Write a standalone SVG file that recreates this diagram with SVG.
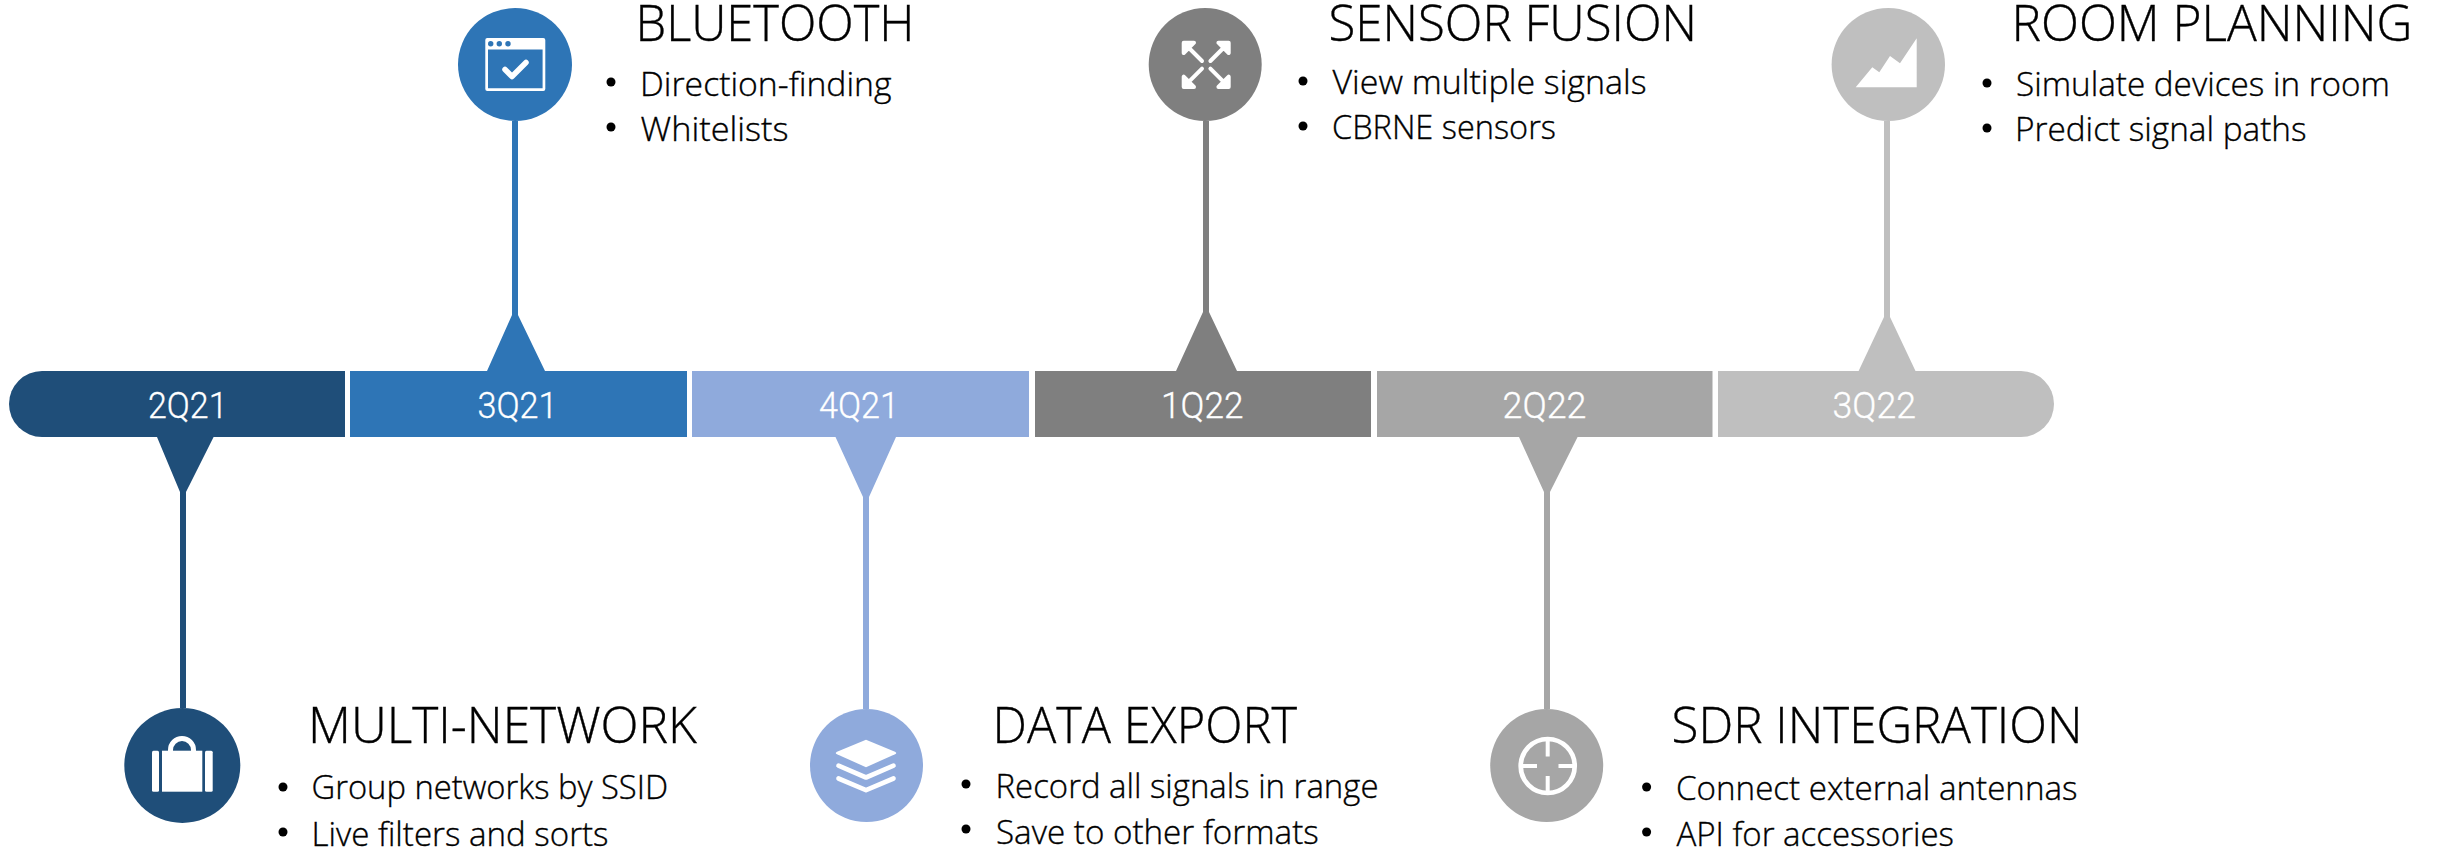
<svg xmlns="http://www.w3.org/2000/svg" width="2440" height="850" viewBox="0 0 2440 850">
<style>
text{font-family:"Open Sans","Liberation Sans",sans-serif;font-weight:300;fill:#000;stroke:#000;stroke-width:.35px}
.t{font-size:49px}
.b{font-size:33px}
.q{font-family:Roboto,"Liberation Sans",sans-serif;font-size:36px;fill:#fff;stroke:#fff;stroke-width:.3px;text-anchor:start}
.ic{fill:#fff;stroke:none}
.il{fill:none;stroke:#fff;stroke-linecap:round;stroke-linejoin:round}
.c1{fill:#1f4e79}.c2{fill:#2e75b6}.c3{fill:#8faadc}.c4{fill:#7f7f7f}.c5{fill:#a6a6a6}.c6{fill:#bfbfbf}
</style>
<rect width="2440" height="850" fill="#fff"/>
<g id="connectors">
<path class="c1" d="M157 437H213.600L186 492V708H180V492Z"/>
<path class="c2" d="M487 371H545L518 315V121H512V315Z"/>
<path class="c3" d="M835.500 437H896L869 497V709H863V497Z"/>
<path class="c4" d="M1176 371H1237L1209 312V121H1203V312Z"/>
<path class="c5" d="M1519 437H1577.600L1550 492V709H1544V492Z"/>
<path class="c6" d="M1858.600 371H1915.500L1890 317V121H1884V317Z"/>
</g>
<g id="seg-2q21"><path class="c1" d="M345 371H42A33 33 0 0 0 42 437H345Z"/><text class="q" x="148" y="418" textLength="79.500" lengthAdjust="spacingAndGlyphs">2Q21</text></g>
<g id="seg-3q21"><rect class="c2" x="350" y="371" width="337" height="66"/><text class="q" x="477.500" y="418" textLength="80" lengthAdjust="spacingAndGlyphs">3Q21</text></g>
<g id="seg-4q21"><rect class="c3" x="692" y="371" width="337" height="66"/><text class="q" x="819" y="418" textLength="80" lengthAdjust="spacingAndGlyphs">4Q21</text></g>
<g id="seg-1q22"><rect class="c4" x="1035" y="371" width="336" height="66"/><text class="q" x="1161" y="418" textLength="82.500" lengthAdjust="spacingAndGlyphs">1Q22</text></g>
<g id="seg-2q22"><rect class="c5" x="1377" y="371" width="335.500" height="66"/><text class="q" x="1502.500" y="418" textLength="84" lengthAdjust="spacingAndGlyphs">2Q22</text></g>
<g id="seg-3q22"><path class="c6" d="M1718 371H2021A33 33 0 0 1 2021 437H1718Z"/><text class="q" x="1832.500" y="418" textLength="83.500" lengthAdjust="spacingAndGlyphs">3Q22</text></g>

<g id="multi-network">
<ellipse class="c1" cx="182.300" cy="765.500" rx="58" ry="57.500"/>
<path class="il" stroke-width="5" d="M170.500 751V750A11.500 11.500 0 0 1 193.500 750V751" style="stroke-linecap:butt"/>
<rect class="ic" x="152" y="750.700" width="7" height="41" rx="1.500"/>
<rect class="ic" x="162" y="750.700" width="40.300" height="41"/>
<rect class="ic" x="205" y="750.700" width="7.700" height="41" rx="1.500"/>
<text class="t" x="308" y="743" textLength="389" lengthAdjust="spacingAndGlyphs">MULTI-NETWORK</text>
<circle cx="283" cy="787" r="4.500"/><text class="b" x="311.500" y="799" textLength="356.500" lengthAdjust="spacingAndGlyphs">Group networks by SSID</text>
<circle cx="283" cy="832" r="4.500"/><text class="b" x="311.500" y="846" textLength="297" lengthAdjust="spacingAndGlyphs">Live filters and sorts</text>
</g>

<g id="bluetooth">
<ellipse class="c2" cx="515" cy="64.500" rx="57" ry="56.500"/>
<path class="ic" fill-rule="evenodd" d="M487.300 38H543.300A2 2 0 0 1 545.300 40V89A2 2 0 0 1 543.300 91H487.300A2 2 0 0 1 485.300 89V40A2 2 0 0 1 487.300 38ZM488 49.500V88.300H542.600V49.500Z"/>
<g class="c2"><circle cx="490.700" cy="43.700" r="2.700"/><circle cx="499.300" cy="43.700" r="2.700"/><circle cx="508" cy="43.700" r="2.700"/></g>
<path class="il" stroke-width="5.500" d="M505 69.500L512 76.500L526 62.500"/>
<text class="t" x="635.500" y="41" textLength="279" lengthAdjust="spacingAndGlyphs">BLUETOOTH</text>
<circle cx="611" cy="82" r="4.500"/><text class="b" x="640" y="96" textLength="251.500" lengthAdjust="spacingAndGlyphs">Direction-finding</text>
<circle cx="611" cy="127" r="4.500"/><text class="b" x="640.500" y="141" textLength="148" lengthAdjust="spacingAndGlyphs">Whitelists</text>
</g>

<g id="data-export">
<ellipse class="c3" cx="866.500" cy="765.500" rx="56.500" ry="56.500"/>
<path class="ic" d="M866 739.800L895 751.700Q897.500 753 895 754.300L866 767.200L837 754.300Q834.500 753 837 751.700Z"/>
<path class="il" stroke-width="4.700" d="M838.500 765.700L866 777.500L893.500 765.700M838.500 778.500L866 790.200L893.500 778.500"/>
<text class="t" x="992.500" y="743" textLength="304.500" lengthAdjust="spacingAndGlyphs">DATA EXPORT</text>
<circle cx="966" cy="784" r="4.500"/><text class="b" x="995.500" y="798" textLength="383" lengthAdjust="spacingAndGlyphs">Record all signals in range</text>
<circle cx="966" cy="829" r="4.500"/><text class="b" x="996" y="844" textLength="322.700" lengthAdjust="spacingAndGlyphs">Save to other formats</text>
</g>

<g id="sensor-fusion">
<ellipse class="c4" cx="1205.200" cy="64.500" rx="56.500" ry="56.500"/>
<path class="il" stroke-width="4" style="fill:#fff" d="M1183.700 42.700H1194L1183.700 53ZM1186 45L1202 61M1228.700 42.700H1218.400L1228.700 53ZM1226.400 45L1210.400 61M1183.700 87H1194L1183.700 76.700ZM1186 84.700L1202 68.700M1228.700 87H1218.400L1228.700 76.700ZM1226.400 84.700L1210.400 68.700"/>
<text class="t" x="1328.500" y="41" textLength="368.500" lengthAdjust="spacingAndGlyphs">SENSOR FUSION</text>
<circle cx="1303" cy="81" r="4.500"/><text class="b" x="1332.500" y="94" textLength="314" lengthAdjust="spacingAndGlyphs">View multiple signals</text>
<circle cx="1303" cy="126" r="4.500"/><text class="b" x="1332" y="139" textLength="224" lengthAdjust="spacingAndGlyphs">CBRNE sensors</text>
</g>

<g id="sdr-integration">
<ellipse class="c5" cx="1546.700" cy="765.500" rx="56.500" ry="56.500"/>
<circle cx="1547.700" cy="766" r="27" fill="none" stroke="#fff" stroke-width="4.700"/>
<path fill="none" stroke="#fff" stroke-width="4" d="M1547.700 740V756.500M1547.700 776V792M1521 766H1537M1558.500 766H1574.500"/>
<text class="t" x="1671.500" y="743" textLength="411" lengthAdjust="spacingAndGlyphs">SDR INTEGRATION</text>
<circle cx="1646.600" cy="787" r="4.500"/><text class="b" x="1676" y="799.500" textLength="401.500" lengthAdjust="spacingAndGlyphs">Connect external antennas</text>
<circle cx="1646.600" cy="832" r="4.500"/><text class="b" x="1676.400" y="846" textLength="277.600" lengthAdjust="spacingAndGlyphs">API for accessories</text>
</g>

<g id="room-planning">
<ellipse class="c6" cx="1888.300" cy="64.500" rx="56.700" ry="56.500"/>
<path class="ic" d="M1855.700 87.300L1872.300 67.300L1879.300 72.300L1890 56L1900 63.300L1916.700 38.300V87.300Z"/>
<text class="t" x="2011.500" y="41" textLength="401" lengthAdjust="spacingAndGlyphs">ROOM PLANNING</text>
<circle cx="1987" cy="83" r="4.500"/><text class="b" x="2016" y="96" textLength="374" lengthAdjust="spacingAndGlyphs">Simulate devices in room</text>
<circle cx="1987" cy="128" r="4.500"/><text class="b" x="2015" y="141" textLength="291.500" lengthAdjust="spacingAndGlyphs">Predict signal paths</text>
</g>
</svg>
